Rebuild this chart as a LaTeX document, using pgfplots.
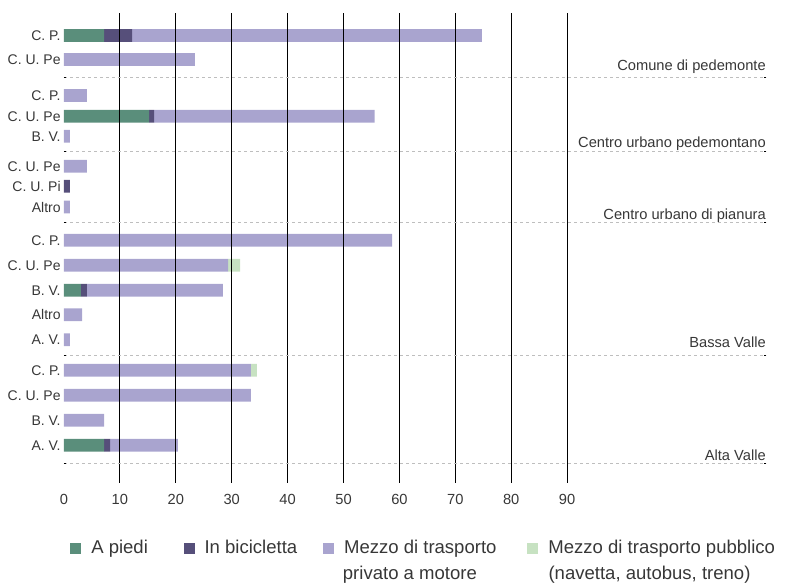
\documentclass[border=0pt]{standalone}
\usepackage{pgfplots}
\usepackage{pgfplotstable}
\pgfplotsset{compat=1.18}
\usepackage{fontspec}
\setmainfont{Liberation Sans}
\definecolor{cgreen}{RGB}{90,142,123}
\definecolor{cdark}{RGB}{86,79,122}
\definecolor{cpurple}{RGB}{169,164,207}
\definecolor{clight}{RGB}{199,226,194}
\definecolor{ctext}{RGB}{55,55,55}
\definecolor{cdash}{RGB}{190,190,190}

\pgfplotstableread{
y g b p t
35.5 7.16 5.01 62.56 0
59.5 0 0 23.43 0
95.5 0 0 4.11 0
116.3 15.21 0.89 39.48 0
136.3 0 0 1.07 0
166.3 0 0 4.11 0
186.3 0 1.07 0 0
207.0 0 0 1.07 0
240.3 0 0 58.7 0
265.3 0 0 29.34 2.15
290.3 3.04 1.07 24.33 0
314.7 0 0 3.22 0
339.7 0 0 1.07 0
370.3 0 0 33.45 1.07
395.3 0 0 33.45 0
420.3 0 0 7.16 0
445.3 7.16 1.07 12.16 0
}\tabdata

\begin{document}
\begin{tikzpicture}
\begin{axis}[
  at={(48pt,-362.475pt)}, anchor=south west,
  scale only axis, width=526.5pt, height=352.5pt,
  xmin=0, xmax=125.58, ymin=13.3, ymax=483.3, y dir=reverse,
  xbar stacked, bar width=9.5pt,
  clip=false,
  axis line style={draw=none},
  major tick length=0pt,
  /pgf/number format/assume math mode=true,
  xtick={10,20,...,90},
  extra x ticks={0}, extra x tick style={grid=none},
  xmajorgrids, major x grid style={black, line width=0.8pt},
  xticklabel style={font=\fontsize{11}{13}\selectfont, text=ctext, yshift=-4.5pt},
  ytick={35.5,59.5,95.5,116.3,136.3,166.3,186.3,207.0,240.3,265.3,290.3,314.7,339.7,370.3,395.3,420.3,445.3},
  yticklabels={C. P., C. U. Pe, C. P., C. U. Pe, B. V., C. U. Pe, C. U. Pi, Altro, C. P., C. U. Pe, B. V., Altro, A. V., C. P., C. U. Pe, B. V., A. V.},
  yticklabel style={font=\fontsize{10.5}{12}\selectfont, text=ctext, xshift=1pt},
  extra y ticks={77.3,151.3,222.7,355.3,463.3}, extra y tick labels={},
  extra y tick style={ymajorgrids=true, major tick length=1.5pt, tick style={black, line width=0.75pt}},
  major y grid style={cdash, line width=0.75pt, dash pattern=on 2.25pt off 2.25pt},
  axis on top,
  legend columns=4,
  legend style={draw=none, fill=none, inner sep=0pt, at={(0.00855,-0.1203)}, anchor=north west,
    nodes={inner sep=0pt, font=\fontsize{13.9}{18}\selectfont, text=ctext},
    cells={anchor=base west},
    /tikz/every odd column/.append style={column sep=7.5pt},
    /tikz/every even column/.append style={column sep=0pt}},
]
\addplot[fill=cgreen, draw=none, legend image code/.code={\fill[cgreen] (0pt,0pt) rectangle (8.25pt,8.25pt);}] table[x=g, y=y]{\tabdata};
\addlegendentry{\hbox to 69.2pt{A piedi\hfil}}
\addplot[fill=cdark, draw=none, legend image code/.code={\fill[cdark] (0pt,0pt) rectangle (8.25pt,8.25pt);}] table[x=b, y=y]{\tabdata};
\addlegendentry{\hbox to 88.9pt{In bicicletta\hfil}}
\addplot[fill=cpurple, draw=none, legend image code/.code={\fill[cpurple] (0pt,0pt) rectangle (8.25pt,8.25pt);}] table[x=p, y=y]{\tabdata};
\addlegendentry{\hbox to 137.5pt{Mezzo di trasporto\hfil}}
\addplot[fill=clight, draw=none, legend image code/.code={\fill[clight] (0pt,0pt) rectangle (8.25pt,8.25pt);}] table[x=t, y=y]{\tabdata};
\addlegendentry{Mezzo di trasporto pubblico}

\node[anchor=base east, font=\fontsize{11}{13}\selectfont, text=ctext, inner sep=0pt] at (axis cs:125.58,70.7) {Comune di pedemonte};
\node[anchor=base east, font=\fontsize{11}{13}\selectfont, text=ctext, inner sep=0pt] at (axis cs:125.58,147) {Centro urbano pedemontano};
\node[anchor=base east, font=\fontsize{11}{13}\selectfont, text=ctext, inner sep=0pt] at (axis cs:125.58,219) {Centro urbano di pianura};
\node[anchor=base east, font=\fontsize{11}{13}\selectfont, text=ctext, inner sep=0pt] at (axis cs:125.58,347.5) {Bassa Valle};
\node[anchor=base east, font=\fontsize{11}{13}\selectfont, text=ctext, inner sep=0pt] at (axis cs:125.58,460) {Alta Valle};
\end{axis}
\node[anchor=base west, font=\fontsize{13.9}{18}\selectfont, text=ctext, inner sep=0pt] at (257.0pt,-434.25pt) {privato a motore};
\node[anchor=base west, font=\fontsize{13.9}{18}\selectfont, text=ctext, inner sep=0pt] at (411.2pt,-434.25pt) {(navetta, autobus, treno)};
\pgfresetboundingbox
\path (0pt,0pt) rectangle (590.25pt,-436.5pt);
\end{tikzpicture}
\end{document}
